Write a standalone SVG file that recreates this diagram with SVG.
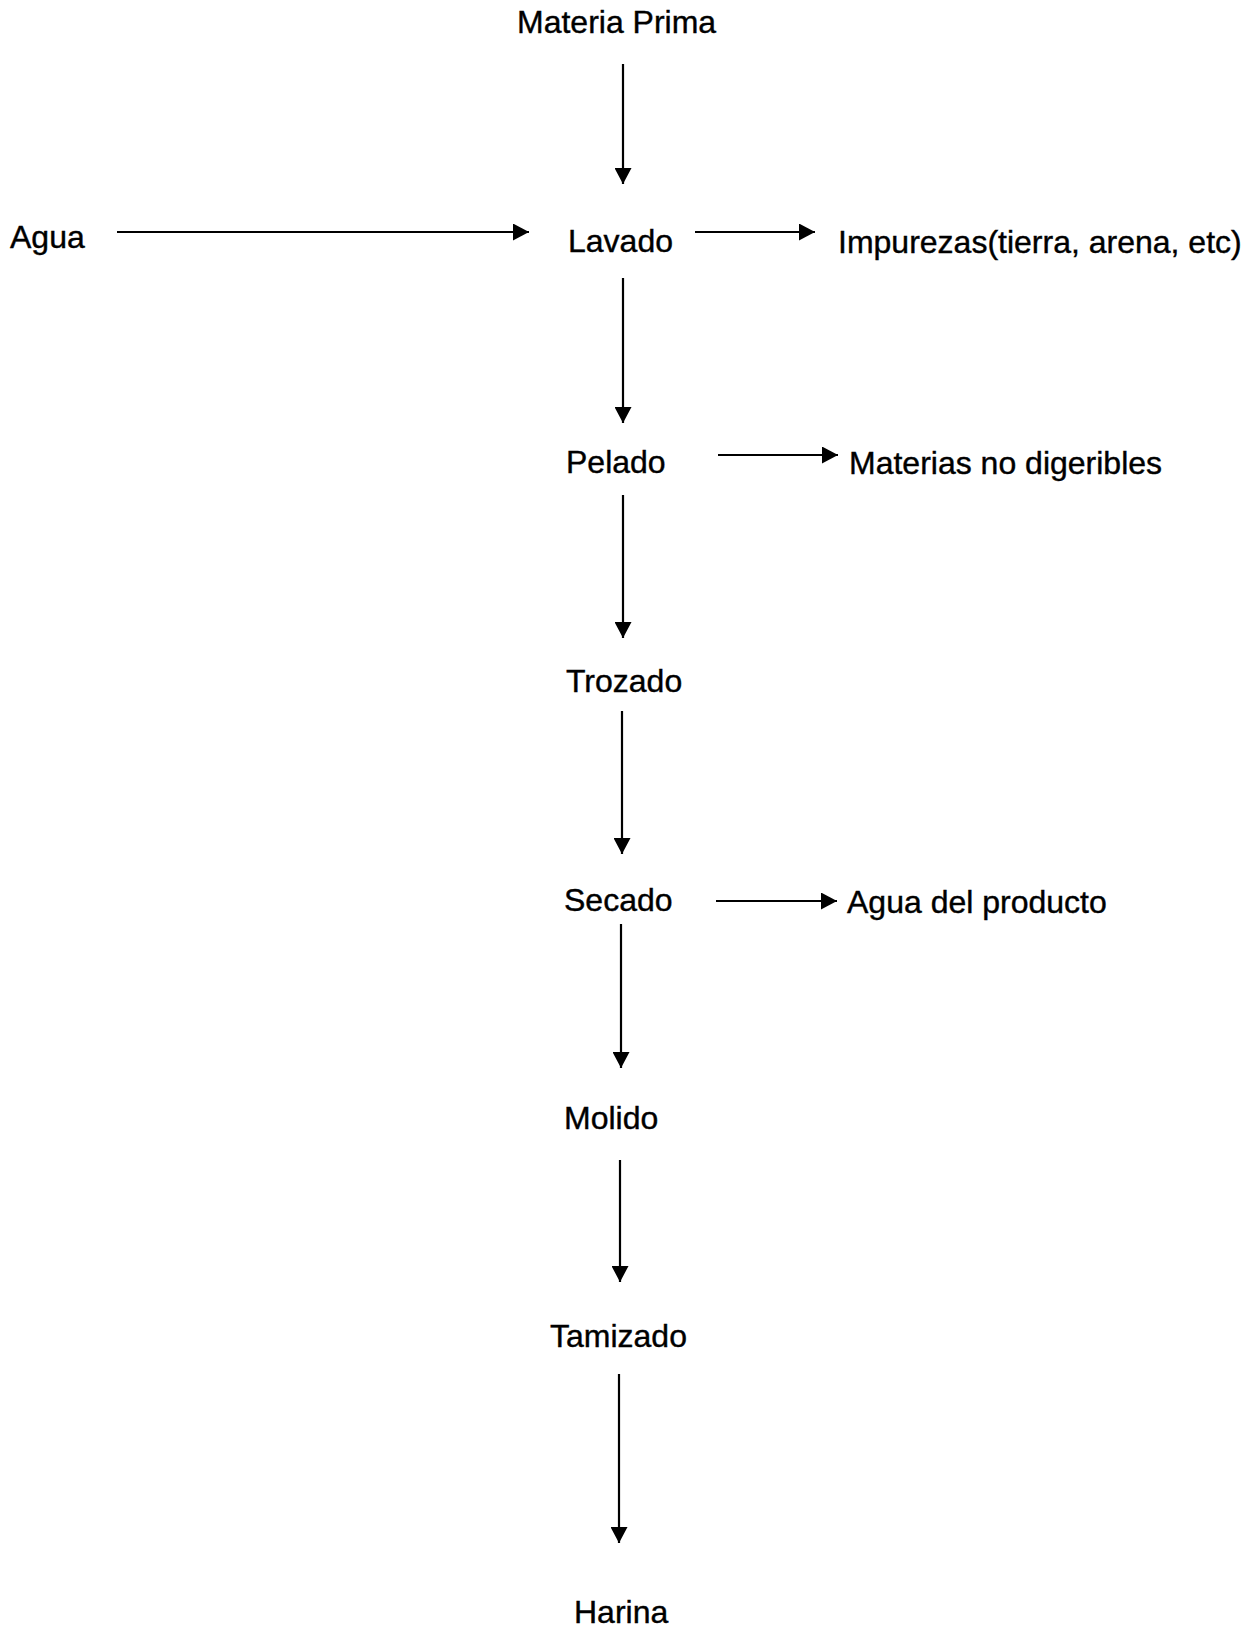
<svg xmlns="http://www.w3.org/2000/svg" width="1258" height="1628" viewBox="0 0 1258 1628">
<style>
text{font-family:"Liberation Sans",Arial,sans-serif;font-size:32px;fill:#000;stroke:#000;stroke-width:0.4}
.c line{stroke:#000;stroke-width:2.2;marker-end:url(#ah)}
</style>
<defs>
<marker id="ah" markerUnits="userSpaceOnUse" markerWidth="17" markerHeight="17" refX="16" refY="8.5" orient="auto">
<path d="M0,0 L16,8.5 L0,17 z" fill="#000"/>
</marker>
</defs>
<rect width="1258" height="1628" fill="#fff"/>
<g id="materia-prima"><text x="517" y="33">Materia Prima</text></g>
<g id="agua"><text x="10" y="248">Agua</text></g>
<g id="lavado"><text x="568" y="252">Lavado</text></g>
<g id="impurezas"><text x="838" y="253">Impurezas(tierra, arena, etc)</text></g>
<g id="pelado"><text x="566" y="473">Pelado</text></g>
<g id="materias-no-digeribles"><text x="849" y="474">Materias no digeribles</text></g>
<g id="trozado"><text x="566" y="692">Trozado</text></g>
<g id="secado"><text x="564" y="911">Secado</text></g>
<g id="agua-del-producto"><text x="847" y="913">Agua del producto</text></g>
<g id="molido"><text x="564" y="1129">Molido</text></g>
<g id="tamizado"><text x="550" y="1347">Tamizado</text></g>
<g id="harina"><text x="574" y="1623">Harina</text></g>
<g id="connectors" class="c">
<line x1="623" y1="64" x2="623" y2="184"/>
<line x1="117" y1="232" x2="529" y2="232"/>
<line x1="695" y1="232" x2="815" y2="232"/>
<line x1="623" y1="278" x2="623" y2="423"/>
<line x1="718" y1="455" x2="838" y2="455"/>
<line x1="623" y1="495" x2="623" y2="638"/>
<line x1="622" y1="711" x2="622" y2="854"/>
<line x1="716" y1="901" x2="837" y2="901"/>
<line x1="621" y1="924" x2="621" y2="1068"/>
<line x1="620" y1="1160" x2="620" y2="1282"/>
<line x1="619" y1="1374" x2="619" y2="1543"/>
</g>
</svg>
